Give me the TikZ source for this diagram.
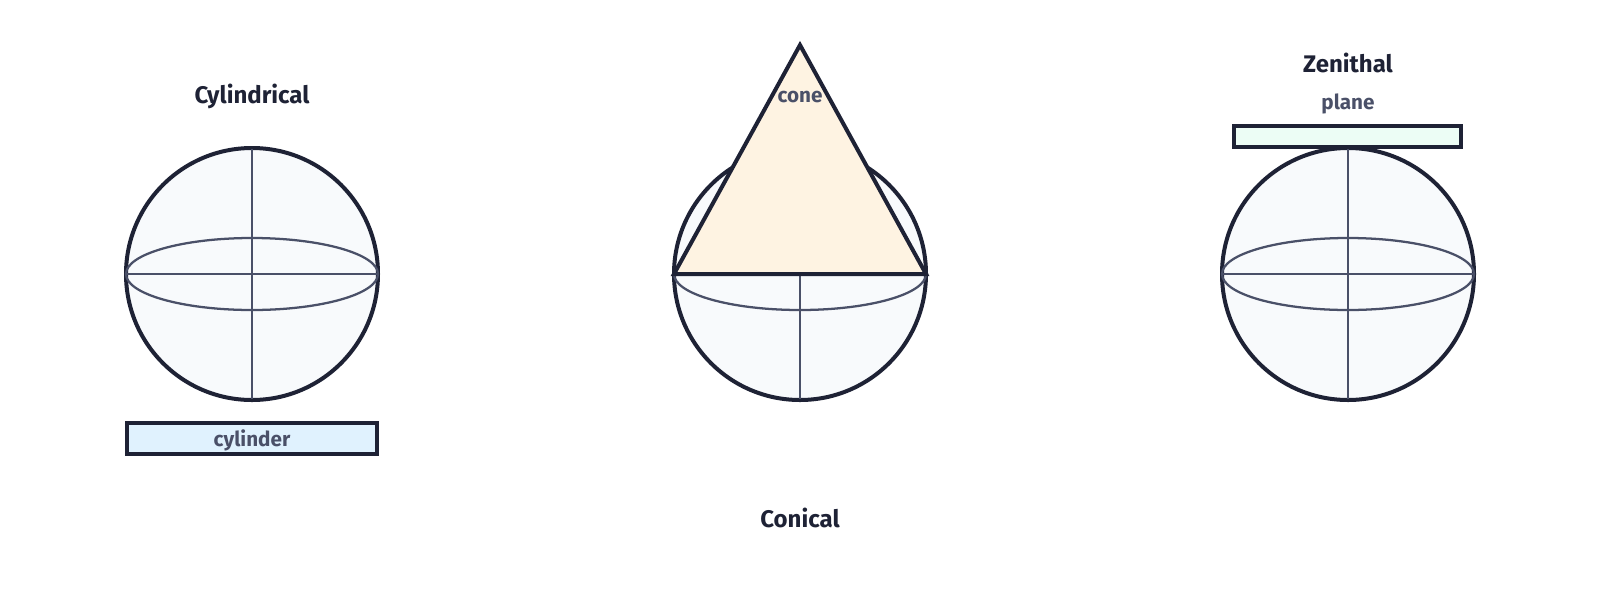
\documentclass[tikz,border=0pt]{standalone}
\usepackage{fontspec}
\setmainfont{Fira Sans}
\definecolor{ink}{HTML}{1E2235}
\definecolor{slate}{HTML}{4A5068}
\definecolor{globe}{HTML}{F8FAFC}
\definecolor{cylfill}{HTML}{E0F2FE}
\definecolor{conefill}{HTML}{FEF3E2}
\definecolor{planefill}{HTML}{ECFDF5}
\begin{document}
\begin{tikzpicture}[x=0.75pt,y=-0.75pt,
  globestyle/.style={draw=ink,fill=globe,line width=3pt},
  gridline/.style={draw=slate,line width=1.7pt},
  surface/.style={draw=ink,line width=3pt,line join=miter},
  titletext/.style={font=\bfseries\fontsize{18}{22}\selectfont,text=ink,inner sep=0pt},
  labeltext/.style={font=\bfseries\fontsize{15.5}{19}\selectfont,text=slate,inner sep=0pt}]
\useasboundingbox (0,0) rectangle (1600,594);

% ---------- Cylindrical ----------
\coordinate (cA) at (252,274);
\path[globestyle] (cA) circle[radius=94.5pt];
\draw[gridline] (cA) ellipse[x radius=94.5pt,y radius=27pt];
\draw[gridline] (252,149) -- (252,399);
\draw[gridline] (127,274) -- (377,274);
\draw[surface,fill=cylfill] (127,423) rectangle (377,454);
\node[labeltext] (cyl) at (252,440) {cylinder};
\node[titletext] (tcyl) at (252,96) {Cylindrical};

% ---------- Conical ----------
\coordinate (cB) at (800,274);
\path[globestyle] (cB) circle[radius=94.5pt];
\draw[gridline] (674,274) arc[start angle=180,end angle=360,x radius=94.5pt,y radius=27pt];
\draw[gridline] (800,274) -- (800,399);
\draw[surface,fill=conefill] (800,45) -- (926,274) -- (674,274) -- cycle;
\node[labeltext] (cone) at (800,97) {cone};
\node[titletext] (tcone) at (800,518) {Conical};

% ---------- Zenithal ----------
\coordinate (cC) at (1348,274);
\path[globestyle] (cC) circle[radius=94.5pt];
\draw[gridline] (cC) ellipse[x radius=94.5pt,y radius=27pt];
\draw[gridline] (1348,149) -- (1348,399);
\draw[gridline] (1223,274) -- (1473,274);
\draw[surface,fill=planefill] (1234,126) rectangle (1461,147);
\node[labeltext] (plane) at (1348,104) {plane};
\node[titletext] (tzen) at (1348,63) {Zenithal};
\end{tikzpicture}
\end{document}
